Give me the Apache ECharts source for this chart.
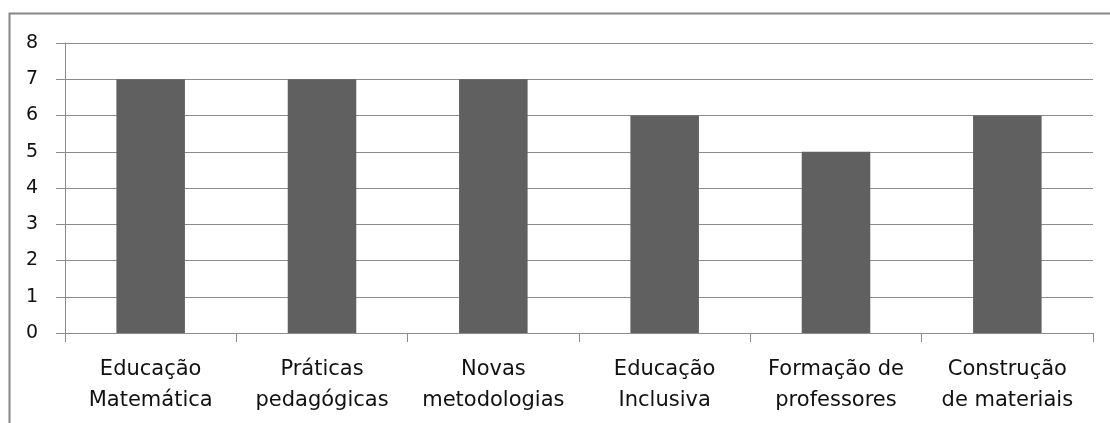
<!DOCTYPE html>
<html>
<head>
<meta charset="utf-8">
<script src="https://cdn.jsdelivr.net/npm/echarts@6/dist/echarts.min.js"></script>
<style>
  html, body { margin: 0; padding: 0; background: #fff; }
  #chart { width: 1110px; height: 423px; }
</style>
</head>
<body>
<div id="chart"></div>
<script>
const categories = ['Educação\nMatemática', 'Práticas\npedagógicas', 'Novas\nmetodologias', 'Educação\nInclusiva', 'Formação de\nprofessores', 'Construção\nde materiais']
const values = [7, 7, 7, 6, 5, 6]

const lineColor = '#8c8c8c'
const chart = echarts.init(document.getElementById('chart'))
chart.setOption({
  animation: false,
  textStyle: { fontFamily: 'DejaVu Sans, Arial, sans-serif', color: '#111' },
  graphic: [{
    type: 'rect',
    shape: { x: 9.5, y: 13.5, width: 1120, height: 430 },
    style: { fill: null, stroke: '#878787', lineWidth: 2 }
  }],
  grid: { left: 65, right: 17, top: 43, bottom: 90 },
  xAxis: {
    type: 'category',
    data: categories,
    axisLine: { lineStyle: { color: lineColor, width: 1 } },
    axisTick: { show: true, length: 9, lineStyle: { color: lineColor } },
    axisLabel: { interval: 0, fontSize: 21, lineHeight: 31, margin: 21, color: '#111' }
  },
  yAxis: {
    type: 'value',
    min: 0,
    max: 8,
    interval: 1,
    axisLine: { show: true, lineStyle: { color: lineColor, width: 1 } },
    axisTick: { show: true, length: 9, lineStyle: { color: lineColor } },
    axisLabel: { fontSize: 19, margin: 27, color: '#111' },
    splitLine: { lineStyle: { color: lineColor, width: 1 } }
  },
  series: [{
    type: 'bar',
    data: values,
    barWidth: '40%',
    itemStyle: { color: '#606060' }
  }]
})
</script>
</body>
</html>
